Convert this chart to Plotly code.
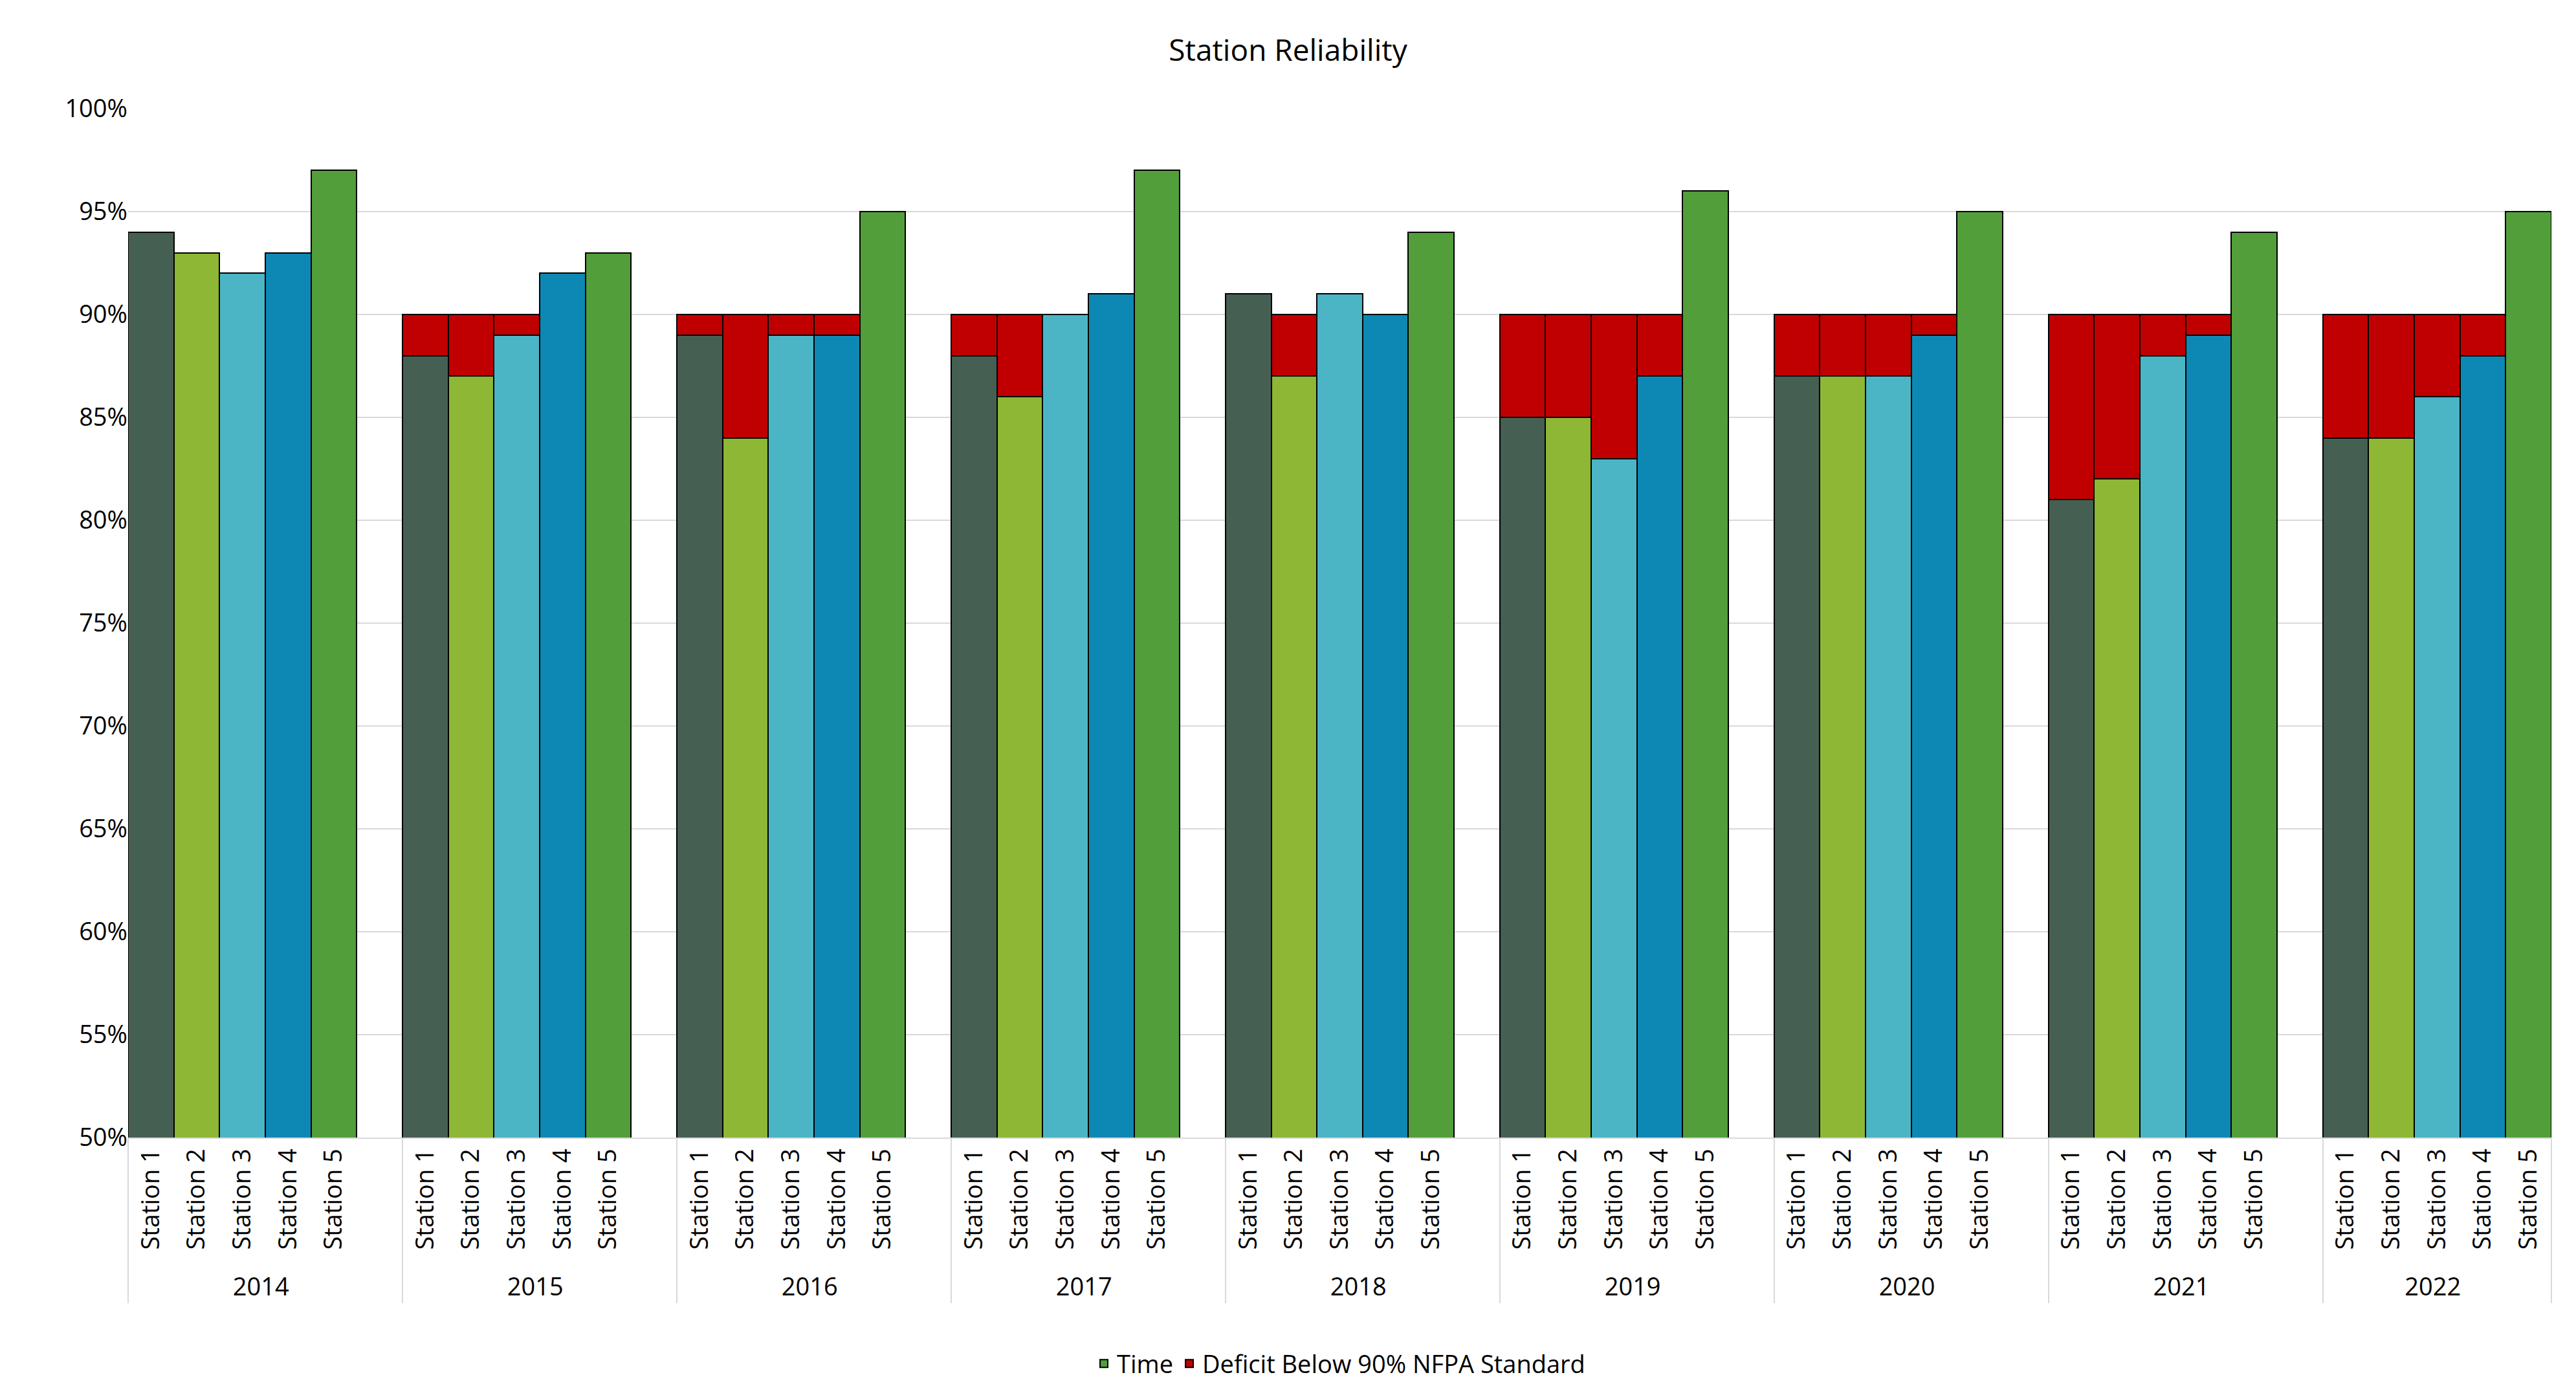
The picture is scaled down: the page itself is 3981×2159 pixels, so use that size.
import plotly.graph_objects as go

years = ["2014", "2015", "2016", "2017", "2018", "2019", "2020", "2021", "2022"]
stations = ["Station 1", "Station 2", "Station 3", "Station 4", "Station 5"]
station_colors = ["#465F53", "#8DB735", "#4BB5C6", "#0D88B4", "#529E3A"]

reliability = {
    "2014": [94, 93, 92, 93, 97],
    "2015": [88, 87, 89, 92, 93],
    "2016": [89, 84, 89, 89, 95],
    "2017": [88, 86, 90, 91, 97],
    "2018": [91, 87, 91, 90, 94],
    "2019": [85, 85, 83, 87, 96],
    "2020": [87, 87, 87, 89, 95],
    "2021": [81, 82, 88, 89, 94],
    "2022": [84, 84, 86, 88, 95],
}
standard = 90

xy, xs, vals, cols, deficit = [], [], [], [], []
for y in years:
    for i, s in enumerate(stations):
        v = reliability[y][i]
        xy.append(y)
        xs.append(s)
        vals.append(v / 100)
        cols.append(station_colors[i])
        deficit.append(max(standard - v, 0) / 100)
    if y != years[-1]:
        # empty slot to leave a gap between year groups
        xy.append(y)
        xs.append(" ")
        vals.append(None)
        cols.append("white")
        deficit.append(None)

line = dict(color="black", width=2)
fig = go.Figure()
fig.add_bar(x=[xy, xs], y=vals, marker_color=cols, name="Time", showlegend=False, marker_line=line)
fig.add_bar(x=[xy, xs], y=deficit, marker_color="#C00000",
            name="Deficit Below 90% NFPA Standard", marker_line=line)
# legend entry for Time
fig.add_bar(x=[[years[0]], [stations[0]]], y=[0], marker_color="#529E3A", name="Time", marker_line=line)

fig.update_layout(
    barmode="stack",
    bargap=0,
    title=dict(text="Station Reliability", x=0.5, y=0.975, font=dict(size=46, color="black")),
    font=dict(family="Open Sans", size=38, color="black"),
    plot_bgcolor="white",
    paper_bgcolor="white",
    legend=dict(orientation="h", x=0.5, xanchor="center", y=-0.2, yanchor="top",
                traceorder="reversed", font=dict(size=38)),
    margin=dict(l=190, r=30, t=160, b=200),
)
fig.update_yaxes(range=[0.5, 1.0], tickformat=".0%", dtick=0.05, gridcolor="#D9D9D9",
                 gridwidth=2, zeroline=False, ticks="")
fig.update_xaxes(tickangle=-90, showdividers=True, dividercolor="#D9D9D9", dividerwidth=2,
                 linecolor="#D9D9D9", linewidth=2)

fig.write_html("out.html")
